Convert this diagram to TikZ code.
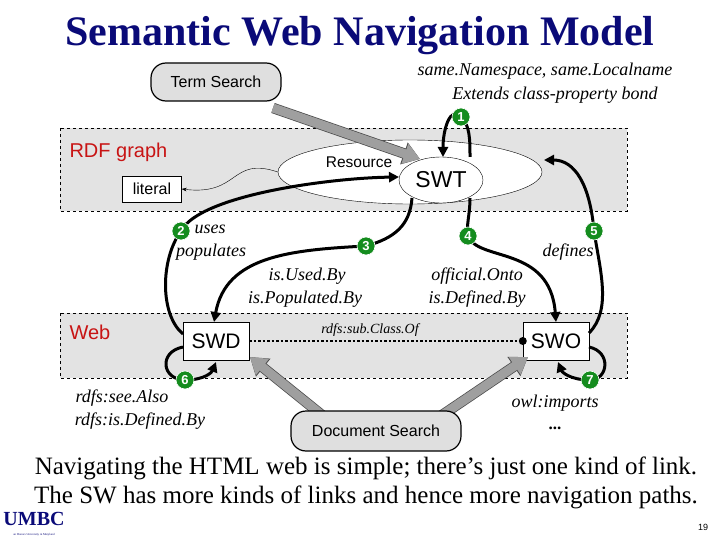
\documentclass[tikz,border=0pt]{standalone}
\usepackage{fontspec}
\setmainfont{Liberation Serif}
\setsansfont{Liberation Sans}
\usetikzlibrary{shapes.geometric,arrows.meta}
\definecolor{navy}{RGB}{10,10,120}
\definecolor{grn}{RGB}{20,140,30}
\definecolor{rdfred}{RGB}{200,20,20}
\tikzset{
 pill/.style={draw,line width=1.2pt,rounded corners=15pt,fill=gray!25,font=\sffamily\fontsize{16}{16}\selectfont,inner sep=0pt},
 band/.style={draw,dashed,fill=gray!22,line width=0.6pt},
 lab/.style={font=\itshape\fontsize{18}{19}\selectfont,align=center},
 redlab/.style={text=rdfred,font=\sffamily\fontsize{20}{20}\selectfont},
 boxn/.style={draw,fill=white,font=\sffamily\fontsize{21}{21}\selectfont,minimum width=66pt,minimum height=38pt},
 num/.style={circle,fill=grn,draw=white,line width=0.6pt,text=white,font=\sffamily\bfseries\fontsize{13}{13}\selectfont,inner sep=0pt,minimum size=18pt},
 blk/.style={line width=3pt,-{Triangle[length=10pt,width=10pt]}},
 gra/.style={line width=9pt,draw=gray!75,-{Triangle[length=16pt,width=20pt]},preaction={draw=black!70,line width=10.5pt,-{Triangle[length=17pt,width=22pt]}}},
}
\begin{document}
\begin{tikzpicture}[x=1pt,y=-1pt]
\useasboundingbox (0,0) rectangle (720,540);
\node[text=navy,font=\bfseries\fontsize{42}{42}\selectfont] (title) at (360,36) {Semantic Web Navigation Model};
% bands
\draw[band] (60,128) rectangle (627,211);
\draw[band] (60,313) rectangle (627,378);
\node[redlab,anchor=west] (rdf) at (66,152) {RDF graph};
\node[redlab,anchor=west] (web) at (66,332) {Web};
% ellipses
\node[ellipse,draw,fill=white,minimum width=264pt,minimum height=64pt] (res) at (410,172) {};
\node[ellipse,draw,fill=white,minimum width=84pt,minimum height=46pt,font=\sffamily\fontsize{23}{23}\selectfont,inner sep=0pt] (swt) at (441,180) {SWT};
\node[draw,fill=white,font=\sffamily\fontsize{16}{16}\selectfont,minimum width=59pt,minimum height=26pt] (lit) at (152,189) {literal};
\draw[-{Stealth[length=5pt]}] (res.west) .. controls (230,156) and (240,196) .. (lit.east);
% boxes
\node[boxn] (swd) at (216,341) {SWD};
\node[boxn] (swo) at (556,341) {SWO};
\draw[dotted,line width=2.5pt] (swd.east) -- (swo.west);
\fill (swo.west) circle (4pt);
\node[lab,font=\itshape\fontsize{14}{14}\selectfont] (sub) at (370,330) {rdfs:sub.Class.Of};
% gray arrows
\coordinate (g1) at (273,108);
\coordinate (g2) at (338,428);
\coordinate (g3) at (420,430);
\draw[gra] (g1) -- (420,159);
\draw[gra] (g2) -- (250,357);
\draw[gra] (g3) -- (528,357);
% pills
\node[pill,minimum width=130pt,minimum height=38pt] (ts) at (216,82) {Term Search};
\node[pill,minimum width=170pt,minimum height=40pt] (ds) at (376,431) {Document Search};
% number positions
\coordinate (n1) at (461,117);
\coordinate (n2) at (181,231);
\coordinate (n3) at (366,246);
\coordinate (n4) at (468,236);
\coordinate (n5) at (594,231);
\coordinate (n6) at (185,380);
\coordinate (n7) at (590,380);
% black arrows
\coordinate (s1) at (470,157);
\coordinate (e1) at (443,157);
\draw[blk] (s1) .. controls (470,140) and (470,125) .. (n1) .. controls (450,105) and (443,130) .. (e1);
\coordinate (s2) at (183,334);
\coordinate (e2) at (399,177);
\draw[blk] (s2) .. controls (160,315) and (160,260) .. (n2) .. controls (200,195) and (330,178) .. (e2);
\coordinate (s3) at (412,198);
\coordinate (e3) at (214,322);
\draw[blk] (s3) .. controls (410,225) and (395,238) .. (n3) .. controls (290,250) and (226,256) .. (e3);
\coordinate (s4) at (470,198);
\coordinate (e4) at (556,322);
\draw[blk] (s4) .. controls (470,215) and (466,225) .. (n4) .. controls (478,262) and (550,245) .. (e4);
\coordinate (s5) at (589,333);
\coordinate (e5) at (544,160);
\draw[blk] (s5) .. controls (612,310) and (600,270) .. (n5) .. controls (590,185) and (575,160) .. (e5);
\coordinate (s6) at (183,347);
\coordinate (e6) at (216,362);
\draw[blk] (s6) .. controls (158,352) and (162,380) .. (n6) .. controls (205,380) and (212,372) .. (e6);
\coordinate (s7) at (589,347);
\coordinate (e7) at (558,362);
\draw[blk] (s7) .. controls (612,352) and (608,380) .. (n7) .. controls (570,380) and (562,372) .. (e7);
\node[num] (c1) at (n1) {1};
\node[num] (c2) at (n2) {2};
\node[num] (c3) at (n3) {3};
\node[num] (c4) at (n4) {4};
\node[num] (c5) at (n5) {5};
\node[num] (c6) at (n6) {6};
\node[num] (c7) at (n7) {7};
\node[font=\sffamily\fontsize{15.5}{15.5}\selectfont,inner sep=1pt] (restxt) at (359,162) {Resource};
% labels
\node[lab] (top1) at (545,71) {same.Namespace, same.Localname};
\node[lab] (top2) at (555,95) {Extends class-property bond};
\node[lab,anchor=west] (uses) at (191,229) {uses};
\node[lab] (pop) at (211,252) {populates};
\node[lab] (iub) at (307,276) {is.Used.By};
\node[lab] (ipb) at (305,299) {is.Populated.By};
\node[lab] (oo) at (477,276) {official.Onto};
\node[lab] (idb) at (477,299) {is.Defined.By};
\node[lab] (def) at (568,252) {defines};
\node[lab] (sa) at (122,398) {rdfs:see.Also};
\node[lab] (rid) at (140,421) {rdfs:is.Defined.By};
\node[lab] (owl) at (555,403) {owl:imports};
\node[lab,font=\bfseries\fontsize{17}{17}\selectfont] (dots) at (555,428) {...};
% bottom
\node[font=\fontsize{25}{25}\selectfont] (b1) at (366,468) {Navigating the HTML web is simple; there’s just one kind of link.};
\node[font=\fontsize{25}{25}\selectfont] (b2) at (366,497) {The SW has more kinds of links and hence more navigation paths.};
\node[text=navy,font=\bfseries\fontsize{20}{20}\selectfont] (umbc) at (34,519) {UMBC};
\node[text=navy,font=\fontsize{3}{3}\selectfont] (hon) at (34,535) {an Honors University in Maryland};
\node[font=\sffamily\fontsize{9}{9}\selectfont] (pg) at (703,527) {19};
\end{tikzpicture}
\end{document}
